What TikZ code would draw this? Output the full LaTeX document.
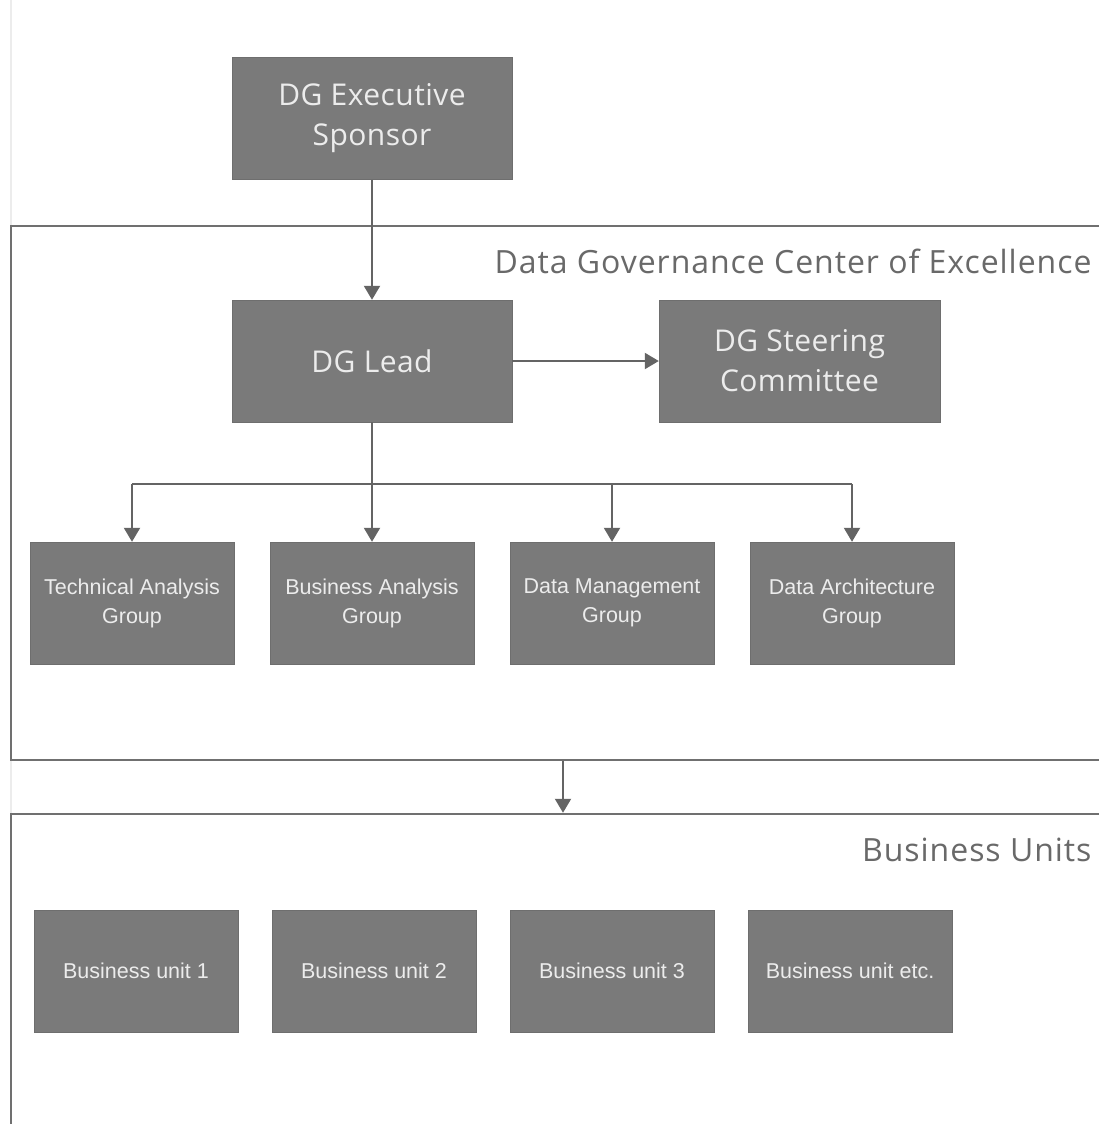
\documentclass[tikz,border=0pt]{standalone}
\usepackage{fontspec}
\setmainfont{Open Sans}
\newfontfamily\smallfont{Liberation Sans}
\usepackage{tikz}
\usetikzlibrary{arrows.meta, positioning}
\usepackage{xcolor}

\definecolor{boxfill}{RGB}{122,122,122}
\definecolor{boxedge}{RGB}{110,110,110}
\definecolor{boxtext}{RGB}{236,236,236}
\definecolor{linecol}{RGB}{100,100,100}
\definecolor{framecol}{RGB}{112,112,112}
\definecolor{labelcol}{RGB}{105,105,105}
\definecolor{ghost}{RGB}{236,236,236}

\begin{document}
\begin{tikzpicture}[
      x=1pt, y=-1pt,
      bigbox/.style={draw=boxedge, fill=boxfill, text=boxtext, align=center, minimum width=280pt, minimum height=122pt, font=\fontsize{30}{40}\selectfont\addfontfeature{LetterSpace=1.5}},
      smallbox/.style={draw=boxedge, fill=boxfill, text=boxtext, align=center, minimum width=204pt, minimum height=122pt, font=\smallfont\fontsize{21.5}{29}\selectfont},
      frame/.style={draw=framecol, line width=2.5pt, minimum width=1104pt},
      framelabel/.style={text=labelcol, anchor=east, font=\fontsize{32}{36}\selectfont\addfontfeature{LetterSpace=3}},
      arrow/.style={draw=linecol, line width=2pt, -{Triangle[length=14pt, width=16pt]}}
    ]

    \clip (0,0) rectangle (1099,1124);
    \fill[white] (0,0) rectangle (1099,1124);
    \draw[ghost, line width=1.5pt] (11,0) -- (11,226);
    \draw[ghost, line width=1.5pt] (11,760) -- (11,814);

    % Frames
    \node[frame, minimum height=534pt] (coe) at (563, 493) {};
    \node[framelabel] (coelabel) at (1095, 261) {Data Governance Center of Excellence};

    \node[frame, minimum height=330pt] (units) at (563, 979) {};
    \node[framelabel] (unitslabel) at (1095, 850) {Business Units};

    % Nodes
    \node[bigbox] (sponsor) at (372, 118.5) {DG Executive\\Sponsor};
    \node[bigbox] (lead) at (372, 361) {DG Lead};
    \node[bigbox, minimum width=281pt] (steering) at (799.5, 361) {DG Steering\\Committee};

    \node[smallbox] (tech) at (132, 603) {Technical Analysis\\Group};
    \node[smallbox] (busan) at (372, 603) {Business Analysis\\Group};
    \node[smallbox] (datamgmt) at (612, 603) {Data Management\\Group};
    \node[smallbox] (dataarch) at (852, 603) {Data Architecture\\Group};

    \node[smallbox] (bu1) at (136, 971) {Business unit 1};
    \node[smallbox] (bu2) at (374, 971) {Business unit 2};
    \node[smallbox] (bu3) at (612, 971) {Business unit 3};
    \node[smallbox] (bu4) at (850, 971) {Business unit etc.};

    % Arrows
    \draw[arrow] (sponsor) -- (lead);
    \draw[arrow] (lead) -- (steering);

    \coordinate (bus) at (372, 484);
    \draw[draw=linecol, line width=2pt] (lead) -- (bus);
    \draw[draw=linecol, line width=2pt] (bus -| tech) -- (bus -| dataarch);
    \draw[arrow] (bus -| tech) -- (tech);
    \draw[arrow] (bus) -- (busan);
    \draw[arrow] (bus -| datamgmt) -- (datamgmt);
    \draw[arrow] (bus -| dataarch) -- (dataarch);

    \draw[arrow] (coe.south) -- (units.north);

  \end{tikzpicture}
\end{document}
